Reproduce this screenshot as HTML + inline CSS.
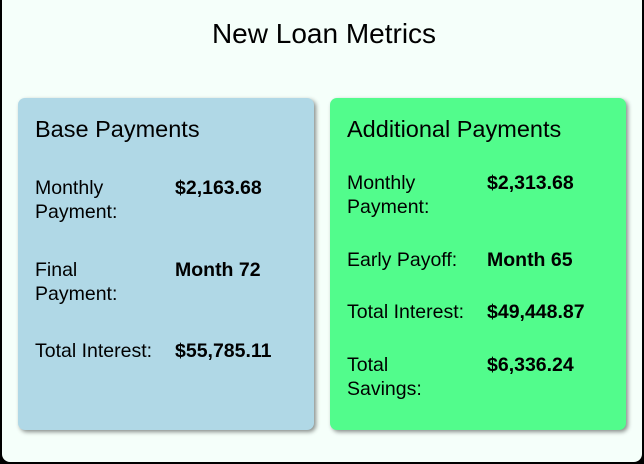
<!DOCTYPE html>
<html><head><meta charset="utf-8"><style>
*{margin:0;padding:0;box-sizing:border-box}
body{width:644px;height:464px;background:#000;font-family:"Liberation Sans",Arial,sans-serif;color:#000;overflow:hidden}
#frame{position:absolute;left:2px;top:0;width:640px;height:462px;background:#f5fffa;border-radius:0 0 8px 8px}
h1{position:absolute;left:0;width:644px;top:18px;text-align:center;font-size:28px;font-weight:normal}
.card{position:absolute;top:98px;width:296px;height:332px;border-radius:7px;box-shadow:2px 2px 4px rgba(0,0,0,.45)}
.card h2{position:absolute;left:17px;top:18px;font-size:23.5px;font-weight:normal}
.t{position:absolute;font-size:19.5px;line-height:24px}
.l{left:17px}.v{left:157px;font-weight:bold}
</style></head><body>
<div id="frame">
<h1>New Loan Metrics</h1>
<div class="card" style="left:16px;background:#b0d8e6">
<h2>Base Payments</h2>
<div class="t l" style="top:78px">Monthly<br>Payment:</div>
<div class="t v" style="top:78px">$2,163.68</div>
<div class="t l" style="top:160px">Final<br>Payment:</div>
<div class="t v" style="top:160px">Month 72</div>
<div class="t l" style="top:241px">Total Interest:</div>
<div class="t v" style="top:241px">$55,785.11</div>
</div>
<div class="card" style="left:328px;background:#52fc8c">
<h2>Additional Payments</h2>
<div class="t l" style="top:73px">Monthly<br>Payment:</div>
<div class="t v" style="top:73px">$2,313.68</div>
<div class="t l" style="top:150px">Early Payoff:</div>
<div class="t v" style="top:150px">Month 65</div>
<div class="t l" style="top:202px">Total Interest:</div>
<div class="t v" style="top:202px">$49,448.87</div>
<div class="t l" style="top:255px">Total<br>Savings:</div>
<div class="t v" style="top:255px">$6,336.24</div>
</div>
</div>
</body></html>
